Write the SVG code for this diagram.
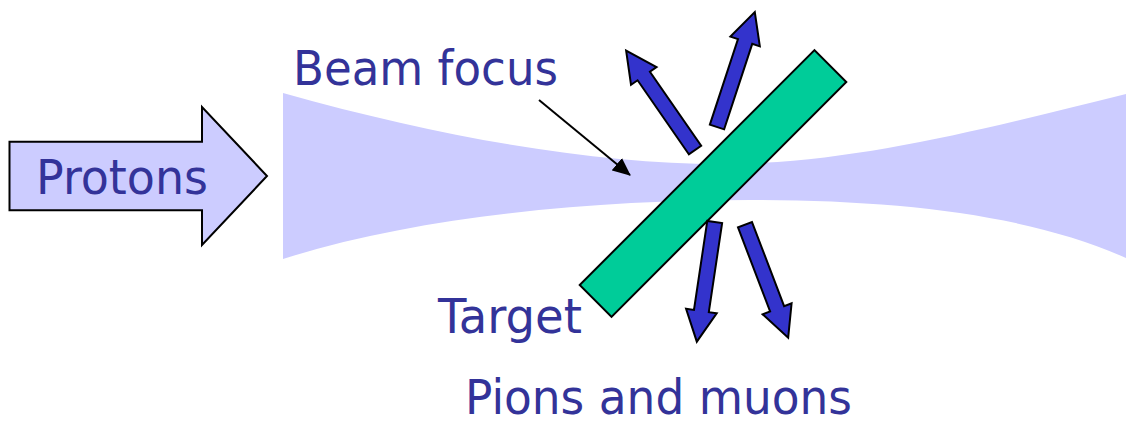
<svg xmlns="http://www.w3.org/2000/svg" width="1126" height="422" viewBox="0 0 1126 422">
  <style>
    .lbl { font-family: "DejaVu Sans", "Liberation Sans", sans-serif; font-size: 48px; fill: #333399; }
    .beam { fill: #CCCCFF; }
    .particle { fill: #3333CC; stroke: #000; stroke-width: 2; stroke-linejoin: miter; }
    .target { fill: #00CC99; stroke: #000; stroke-width: 2; }
    .protons { fill: #CCCCFF; stroke: #000; stroke-width: 2; }
    .pointer { stroke: #000; stroke-width: 2; fill: none; }
  </style>
  <defs>
    <path id="blockArrow" d="M0,-7.5 H90 V-15.5 L121,0 L90,15.5 V7.5 H0 Z"/>
    <marker id="ptrHead" markerUnits="userSpaceOnUse" markerWidth="18" markerHeight="16" refX="17" refY="8" orient="auto">
      <path d="M0,0 L18,8 L0,16 Z" fill="#000"/>
    </marker>
  </defs>
  <rect width="1126" height="422" fill="#fff"/>

  <g id="beam">
    <path class="beam" d="M283,93 C450,140 600,164 720,164 C850,164 980,130 1126,94 L1126,258 C1030,215 900,200 750,200 C600,200 420,215 283,259 Z"/>
  </g>

  <g id="protons">
    <polygon class="protons" points="9.5,141.7 202,141.7 202,107 267,176 202,245 202,210.3 9.5,210.3"/>
    <text class="lbl" x="36" y="194" textLength="172" lengthAdjust="spacingAndGlyphs">Protons</text>
  </g>

  <g id="target">
    <rect class="target" x="-166" y="-22.5" width="332" height="45" transform="translate(713,183.5) rotate(-45)"/>
  </g>

  <g id="particles">
    <use href="#blockArrow" class="particle" transform="translate(695,150) rotate(-124.7)"/>
    <use href="#blockArrow" class="particle" transform="translate(717,127) rotate(-71.8)"/>
    <use href="#blockArrow" class="particle" transform="translate(714.7,222) rotate(98.5)"/>
    <use href="#blockArrow" class="particle" transform="translate(745,224.7) rotate(69.1)"/>
  </g>

  <g id="connectors">
    <line class="pointer" x1="539" y1="100" x2="630" y2="175" marker-end="url(#ptrHead)"/>
  </g>

  <g id="beam-focus-label">
    <text class="lbl" x="293" y="85" textLength="265" lengthAdjust="spacingAndGlyphs">Beam focus</text>
  </g>
  <g id="target-label">
    <text class="lbl" x="438" y="333" textLength="144" lengthAdjust="spacingAndGlyphs">Target</text>
  </g>
  <g id="pions-label">
    <text class="lbl" x="465" y="414" textLength="387" lengthAdjust="spacingAndGlyphs">Pions and muons</text>
  </g>
</svg>
